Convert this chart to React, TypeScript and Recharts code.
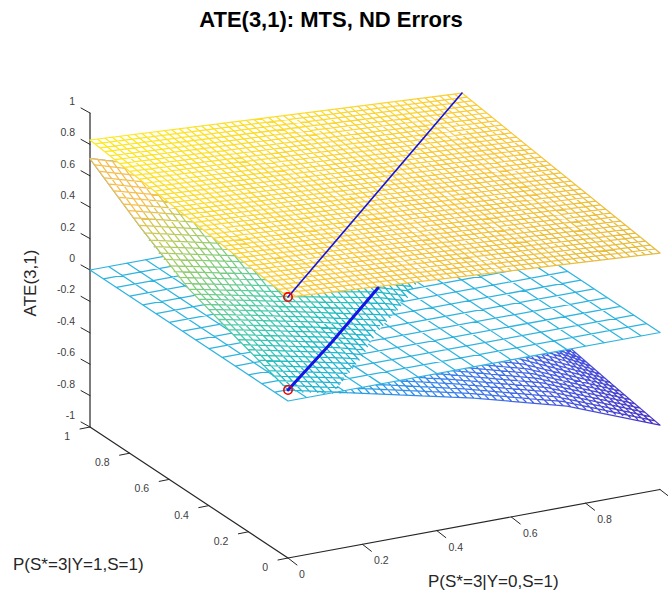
import React from 'react';
import { Area, ComposedChart, Line, ReferenceDot, XAxis, YAxis } from 'recharts';

type P3 = [number, number, number];

// mesh positions on the two probability axes
const fineX = [0, 0.02, 0.04, 0.06, 0.08, 0.1, 0.12, 0.14, 0.16, 0.18, 0.2, 0.22, 0.24, 0.26, 0.28, 0.3, 0.32, 0.34, 0.36, 0.38, 0.4, 0.42, 0.44, 0.46, 0.48, 0.5, 0.52, 0.54, 0.56, 0.58, 0.6, 0.62, 0.64, 0.66, 0.68, 0.7, 0.72, 0.74, 0.76, 0.78, 0.8, 0.82, 0.84, 0.86, 0.88, 0.9, 0.92, 0.94, 0.96, 0.98, 1];
const fineY = [0, 0.025, 0.05, 0.075, 0.1, 0.125, 0.15, 0.175, 0.2, 0.225, 0.25, 0.275, 0.3, 0.325, 0.35, 0.375, 0.4, 0.425, 0.45, 0.475, 0.5, 0.525, 0.55, 0.575, 0.6, 0.625, 0.65, 0.675, 0.7, 0.725, 0.75, 0.775, 0.8, 0.825, 0.85, 0.875, 0.9, 0.925, 0.95, 0.975, 1];
const coarseX = [0, 0.05, 0.1, 0.15, 0.2, 0.25, 0.3, 0.35, 0.4, 0.45, 0.5, 0.55, 0.6, 0.65, 0.7, 0.75, 0.8, 0.85, 0.9, 0.95, 1];
const coarseY = [0, 0.067, 0.133, 0.2, 0.267, 0.333, 0.4, 0.467, 0.533, 0.6, 0.667, 0.733, 0.8, 0.867, 0.933, 1];
const sheetKnots = [0, 0.25, 0.5, 0.75, 1];

// upper plane, heights along its four edges
const upperAtX0 = [0.662, 0.666, 0.67, 0.674, 0.679, 0.683, 0.687, 0.691, 0.695, 0.699, 0.704, 0.708, 0.712, 0.716, 0.72, 0.724, 0.728, 0.733, 0.737, 0.741, 0.745, 0.749, 0.753, 0.757, 0.762, 0.766, 0.77, 0.774, 0.778, 0.782, 0.787, 0.791, 0.795, 0.799, 0.803, 0.807, 0.811, 0.816, 0.82, 0.824, 0.828];
const upperAtX1 = [0.506, 0.511, 0.515, 0.52, 0.525, 0.529, 0.534, 0.538, 0.543, 0.548, 0.552, 0.557, 0.562, 0.566, 0.571, 0.575, 0.58, 0.585, 0.589, 0.594, 0.599, 0.603, 0.608, 0.612, 0.617, 0.622, 0.626, 0.631, 0.636, 0.64, 0.645, 0.649, 0.654, 0.659, 0.663, 0.668, 0.672, 0.677, 0.682, 0.686, 0.691];
const upperAtY0 = [0.662, 0.659, 0.656, 0.653, 0.65, 0.646, 0.643, 0.64, 0.637, 0.634, 0.631, 0.628, 0.625, 0.621, 0.618, 0.615, 0.612, 0.609, 0.606, 0.603, 0.6, 0.596, 0.593, 0.59, 0.587, 0.584, 0.581, 0.578, 0.575, 0.572, 0.568, 0.565, 0.562, 0.559, 0.556, 0.553, 0.55, 0.547, 0.543, 0.54, 0.537, 0.534, 0.531, 0.528, 0.525, 0.522, 0.518, 0.515, 0.512, 0.509, 0.506];
const upperAtY1 = [0.828, 0.825, 0.823, 0.82, 0.817, 0.814, 0.812, 0.809, 0.806, 0.803, 0.801, 0.798, 0.795, 0.792, 0.79, 0.787, 0.784, 0.781, 0.779, 0.776, 0.773, 0.77, 0.768, 0.765, 0.762, 0.759, 0.757, 0.754, 0.751, 0.749, 0.746, 0.743, 0.74, 0.738, 0.735, 0.732, 0.729, 0.727, 0.724, 0.721, 0.718, 0.716, 0.713, 0.71, 0.707, 0.705, 0.702, 0.699, 0.696, 0.694, 0.691];

// curved sheet: heights for each fineY line at x = 0, .25, .5, .75, 1
const sheetAtX0 = [0.07, 0.078, 0.088, 0.097, 0.11, 0.122, 0.135, 0.147, 0.16, 0.171, 0.182, 0.194, 0.205, 0.216, 0.228, 0.239, 0.25, 0.261, 0.273, 0.284, 0.295, 0.311, 0.328, 0.344, 0.36, 0.38, 0.4, 0.42, 0.44, 0.466, 0.493, 0.519, 0.545, 0.566, 0.588, 0.609, 0.63, 0.65, 0.67, 0.69, 0.71];
const sheetAtX25 = [-0.065, -0.054, -0.043, -0.031, -0.02, -0.008, 0.005, 0.018, 0.03, 0.043, 0.055, 0.068, 0.08, 0.091, 0.103, 0.114, 0.125, 0.136, 0.148, 0.159, 0.17, 0.186, 0.203, 0.219, 0.235, 0.253, 0.27, 0.288, 0.305, 0.326, 0.348, 0.369, 0.39, 0.408, 0.425, 0.443, 0.46, 0.478, 0.495, 0.513, 0.53];
const sheetAtX50 = [-0.2, -0.191, -0.183, -0.174, -0.165, -0.155, -0.145, -0.135, -0.125, -0.111, -0.098, -0.084, -0.07, -0.054, -0.038, -0.021, -0.005, 0.011, 0.028, 0.044, 0.06, 0.073, 0.085, 0.098, 0.11, 0.124, 0.138, 0.151, 0.165, 0.179, 0.193, 0.206, 0.22, 0.236, 0.253, 0.269, 0.285, 0.301, 0.318, 0.334, 0.35];
const sheetAtX75 = [-0.36, -0.351, -0.343, -0.334, -0.325, -0.316, -0.308, -0.299, -0.29, -0.278, -0.265, -0.253, -0.24, -0.225, -0.21, -0.195, -0.18, -0.165, -0.15, -0.135, -0.12, -0.105, -0.09, -0.075, -0.06, -0.04, -0.02, 0, 0.02, 0.038, 0.055, 0.073, 0.09, 0.106, 0.123, 0.139, 0.155, 0.171, 0.188, 0.204, 0.22];
const sheetAtX100 = [-0.59, -0.584, -0.578, -0.571, -0.565, -0.559, -0.553, -0.546, -0.54, -0.534, -0.528, -0.521, -0.515, -0.51, -0.505, -0.5, -0.495, -0.487, -0.48, -0.472, -0.465, -0.454, -0.443, -0.431, -0.42, -0.4, -0.38, -0.36, -0.34, -0.31, -0.28, -0.25, -0.22, -0.185, -0.15, -0.115, -0.08, -0.045, -0.01, 0.025, 0.06];

// curved sheet: heights for each fineX line at y = 0, .25, .5, .75, 1
const sheetAtY0 = [0.07, 0.055, 0.04, 0.03, 0.02, 0.01, 0, -0.01, -0.02, -0.03, -0.04, -0.05, -0.06, -0.07, -0.08, -0.09, -0.101, -0.112, -0.123, -0.134, -0.145, -0.156, -0.167, -0.178, -0.189, -0.2, -0.212, -0.224, -0.236, -0.248, -0.26, -0.273, -0.286, -0.299, -0.312, -0.325, -0.339, -0.353, -0.368, -0.384, -0.4, -0.417, -0.434, -0.451, -0.468, -0.485, -0.506, -0.527, -0.548, -0.569, -0.59];
const sheetAtY25 = [0.18, 0.17, 0.16, 0.15, 0.14, 0.13, 0.12, 0.11, 0.1, 0.09, 0.08, 0.07, 0.06, 0.05, 0.04, 0.03, 0.018, 0.006, -0.006, -0.018, -0.03, -0.043, -0.056, -0.069, -0.082, -0.095, -0.108, -0.121, -0.134, -0.147, -0.16, -0.174, -0.188, -0.202, -0.216, -0.23, -0.245, -0.26, -0.275, -0.29, -0.305, -0.323, -0.341, -0.359, -0.377, -0.395, -0.422, -0.449, -0.476, -0.503, -0.53];
const sheetAtY50 = [0.295, 0.285, 0.275, 0.265, 0.255, 0.245, 0.235, 0.225, 0.215, 0.205, 0.195, 0.186, 0.177, 0.168, 0.159, 0.15, 0.141, 0.132, 0.123, 0.114, 0.105, 0.096, 0.087, 0.078, 0.069, 0.06, 0.047, 0.034, 0.021, 0.008, -0.005, -0.02, -0.035, -0.05, -0.065, -0.08, -0.097, -0.114, -0.131, -0.148, -0.165, -0.19, -0.215, -0.24, -0.265, -0.29, -0.325, -0.36, -0.395, -0.43, -0.465];
const sheetAtY75 = [0.49, 0.478, 0.466, 0.454, 0.442, 0.43, 0.419, 0.408, 0.397, 0.386, 0.375, 0.363, 0.351, 0.339, 0.327, 0.315, 0.302, 0.289, 0.276, 0.263, 0.25, 0.238, 0.226, 0.214, 0.202, 0.19, 0.179, 0.168, 0.157, 0.146, 0.135, 0.125, 0.115, 0.105, 0.095, 0.085, 0.072, 0.059, 0.046, 0.033, 0.02, -0.006, -0.032, -0.058, -0.084, -0.11, -0.144, -0.178, -0.212, -0.246, -0.28];
const sheetAtY100 = [0.71, 0.696, 0.682, 0.668, 0.654, 0.64, 0.625, 0.61, 0.595, 0.58, 0.565, 0.55, 0.535, 0.52, 0.505, 0.49, 0.476, 0.462, 0.448, 0.434, 0.42, 0.406, 0.392, 0.378, 0.364, 0.35, 0.339, 0.328, 0.317, 0.306, 0.295, 0.285, 0.275, 0.265, 0.255, 0.245, 0.234, 0.223, 0.212, 0.201, 0.19, 0.178, 0.166, 0.154, 0.142, 0.13, 0.116, 0.102, 0.088, 0.074, 0.06];

// where the sheet passes through the z = 0 plane
const zeroContour: [number, number][] = [[0.12, 0], [0.3, 0.2], [0.49, 0.4], [0.58, 0.5], [0.66, 0.6], [0.76, 0.7], [0.82, 0.8], [0.915, 0.9], [1, 0.96]];

// diagonal curves with the red markers
const upperDiagonal: P3[] = [[0, 0, 0.662], [1, 1, 0.691]];
const lowerDiagonal: P3[] = [[0, 0, 0.07], [0.25, 0.25, 0.055], [0.517, 0.517, 0.063]];

const zTicks = [1, 0.8, 0.6, 0.4, 0.2, 0, -0.2, -0.4, -0.6, -0.8, -1];
const xTicks = [0, 0.2, 0.4, 0.6, 0.8, 1];
const yTicks = [0, 0.2, 0.4, 0.6, 0.8, 1];

// orthographic view of the unit box, in page pixels
const project = ([x, y, z]: P3) => ({
  x: 288 + 372 * x - 198 * y,
  y: 558 - 68.5 * x - 131 * y - 157 * (z + 1),
});

const FONT = '"Liberation Sans", Arial, sans-serif';
const TICK_COLOR = '#404040';

const toSeries = (lines: P3[][]) => {
  const out: { x: number; y: number | null }[] = [];
  lines.forEach(line => {
    line.forEach(p => out.push(project(p)));
    out.push({ x: project(line[line.length - 1]).x, y: null });
  });
  return out;
};

const offsetLine = (p: P3, dx: number, dy: number) => {
  const a = project(p);
  return [a, { x: a.x + dx, y: a.y + dy }, { x: a.x + dx, y: null }];
};

// keep only the runs of a polyline that lie above z = 0
const aboveZero = (line: P3[]) => {
  const runs: P3[][] = [];
  let run: P3[] = [];
  line.forEach((p, i) => {
    const prev = line[i - 1];
    if (prev && prev[2] > 0 !== p[2] > 0) {
      const t = prev[2] / (prev[2] - p[2]);
      const cross: P3 = [prev[0] + (p[0] - prev[0]) * t, prev[1] + (p[1] - prev[1]) * t, 0];
      run.push(cross);
      if (p[2] <= 0) {
        runs.push(run);
        run = [];
      } else {
        run = [cross];
      }
    }
    if (p[2] > 0) run.push(p);
  });
  if (run.length > 1) runs.push(run);
  return runs;
};

// white backing for a polygon, as a range area on the x axis
const toBand = (poly: P3[]) => {
  const pts = poly.map(project);
  const xs = Array.from(new Set(pts.map(p => p.x))).sort((a, b) => a - b);
  return xs.map(x => {
    const hits: number[] = [];
    pts.forEach((a, i) => {
      const b = pts[(i + 1) % pts.length];
      if ((a.x <= x && b.x >= x) || (b.x <= x && a.x >= x)) {
        hits.push(a.x === b.x ? a.y : a.y + ((b.y - a.y) * (x - a.x)) / (b.x - a.x));
      }
    });
    return { x, band: [Math.min(...hits), Math.max(...hits)] };
  });
};

const sheetByX = [sheetAtX0, sheetAtX25, sheetAtX50, sheetAtX75, sheetAtX100];
const sheetByY = [sheetAtY0, sheetAtY25, sheetAtY50, sheetAtY75, sheetAtY100];
const sheetLines: P3[][] = [
  ...fineY.map((y, k) => sheetKnots.map((x, j): P3 => [x, y, sheetByX[j][k]])),
  ...fineX.map((x, i) => sheetKnots.map((y, j): P3 => [x, y, sheetByY[j][i]])),
];
const sheetAll = toSeries(sheetLines);
const sheetTop = toSeries(sheetLines.flatMap(aboveZero));
const sheetBand = toBand([
  ...sheetKnots.map((x, j): P3 => [x, 1, sheetByX[j][40]]),
  ...[...zeroContour].reverse().map(([x, y]): P3 => [x, y, 0]),
  [0, 0, sheetAtX0[0]],
  ...sheetKnots.slice(1, 4).map((y): P3 => [0, y, sheetAtX0[fineY.indexOf(y)]]),
]);

const cyanLines: P3[][] = [
  ...coarseY.map((y): P3[] => [[0, y, 0], [1, y, 0]]),
  ...coarseX.map((x): P3[] => [[x, 0, 0], [x, 1, 0]]),
];
const cyanSeries = toSeries(cyanLines);
const cyanBand = toBand([[0, 0, 0], [1, 0, 0], [1, 1, 0], [0, 1, 0]]);

const upperLines: P3[][] = [
  ...fineY.map((y, k): P3[] => [[0, y, upperAtX0[k]], [1, y, upperAtX1[k]]]),
  ...fineX.map((x, i): P3[] => [[x, 0, upperAtY0[i]], [x, 1, upperAtY1[i]]]),
];
const upperSeries = toSeries(upperLines);
const upperBand = toBand([[0, 0, 0.662], [1, 0, 0.506], [1, 1, 0.691], [0, 1, 0.828]]);

const axisSeries = toSeries([
  [[0, 1, -1], [0, 1, 1]],
  [[0, 0, -1], [0, 1, -1]],
  [[0, 0, -1], [1, 0, -1]],
]);
const tickSeries = [
  ...zTicks.flatMap(z => offsetLine([0, 1, z], -9, -5)),
  ...xTicks.flatMap(x => offsetLine([x, 0, -1], 9, 7)),
  ...yTicks.flatMap(y => offsetLine([0, y, -1], -10, 2)),
];

const label = (text: string, x: number, y: number, anchor: string, size: number, color: string, extra: any = {}) => (
  <ReferenceDot
    key={`${text}-${x}-${y}`}
    x={x}
    y={y}
    r={0}
    shape={(p: any) => (
      <text
        x={p.cx}
        y={p.cy}
        textAnchor={anchor}
        dominantBaseline="central"
        fontFamily={FONT}
        fontSize={size}
        fill={color}
        transform={extra.rotate ? `rotate(${extra.rotate} ${p.cx} ${p.cy})` : undefined}
        fontWeight={extra.bold ? 'bold' : 'normal'}
      >
        {text}
      </text>
    )}
  />
);

const lineProps: any = {
  type: 'linear',
  dataKey: 'y',
  dot: false,
  activeDot: false,
  connectNulls: false,
  isAnimationActive: false,
  strokeLinecap: 'round',
};

const bandProps: any = {
  type: 'linear',
  dataKey: 'band',
  stroke: 'none',
  fill: '#ffffff',
  fillOpacity: 1,
  dot: false,
  activeDot: false,
  isAnimationActive: false,
};

export default function App() {
  return (
    <div style={{ position: 'absolute', left: 0, top: 0, width: 668, height: 594, background: '#fff' }}>
      <ComposedChart width={668} height={594} margin={{ top: 0, right: 0, bottom: 0, left: 0 }}>
        <defs>
          <linearGradient id="upperGrad" gradientUnits="userSpaceOnUse" x1={90} y1={140} x2={410} y2={483}>
            <stop offset="0" stopColor="#fdea1f" />
            <stop offset="0.3" stopColor="#fbd82f" />
            <stop offset="0.6" stopColor="#f9c63c" />
            <stop offset="1" stopColor="#e4bb3e" />
          </linearGradient>
          <linearGradient id="sheetTopGrad" gradientUnits="userSpaceOnUse" x1={124} y1={124} x2={365} y2={365}>
            <stop offset="0" stopColor="#f6bc50" />
            <stop offset="0.2" stopColor="#f5c050" />
            <stop offset="0.31" stopColor="#c4ca58" />
            <stop offset="0.43" stopColor="#94cc70" />
            <stop offset="0.65" stopColor="#50cca8" />
            <stop offset="0.85" stopColor="#22bcc2" />
            <stop offset="1" stopColor="#22b0d8" />
          </linearGradient>
          <linearGradient id="sheetLowGrad" gradientUnits="userSpaceOnUse" x1={340} y1={0} x2={660} y2={0}>
            <stop offset="0" stopColor="#28a4e0" />
            <stop offset="0.35" stopColor="#3a80ec" />
            <stop offset="0.7" stopColor="#4858e0" />
            <stop offset="1" stopColor="#4832c0" />
          </linearGradient>
        </defs>
        <XAxis hide type="number" dataKey="x" domain={[0, 668]} allowDataOverflow />
        <YAxis hide type="number" domain={[0, 594]} reversed allowDataOverflow />

        <Line {...lineProps} data={axisSeries} stroke="#262626" strokeWidth={1.2} zIndex={401} />
        <Line {...lineProps} data={tickSeries} stroke="#262626" strokeWidth={1} zIndex={402} />

        <Line {...lineProps} data={sheetAll} stroke="url(#sheetLowGrad)" strokeWidth={1.25} zIndex={403} />
        <Area {...bandProps} data={cyanBand} zIndex={404} />
        <Line {...lineProps} data={cyanSeries} stroke="#2fb4df" strokeWidth={1.25} zIndex={405} />
        <Area {...bandProps} data={sheetBand} zIndex={406} />
        <Line {...lineProps} data={sheetTop} stroke="url(#sheetTopGrad)" strokeWidth={1.25} zIndex={407} />
        <Area {...bandProps} data={upperBand} zIndex={408} />
        <Line {...lineProps} data={upperSeries} stroke="url(#upperGrad)" strokeWidth={1.25} zIndex={409} />

        <Line {...lineProps} data={lowerDiagonal.map(project)} stroke="#1414e6" strokeWidth={3} zIndex={410} />
        <Line {...lineProps} data={upperDiagonal.map(project)} stroke="#1414e6" strokeWidth={1.6} zIndex={411} />
        <Line
          {...lineProps}
          data={[upperDiagonal[0], lowerDiagonal[0]].map(project).flatMap(p => [p, { x: p.x, y: null }])}
          stroke="none"
          dot={{ r: 4.2, stroke: '#f00000', strokeWidth: 1.6, fill: 'none' }}
          zIndex={412}
        />

        {label('ATE(3,1): MTS, ND Errors', 331, 19, 'middle', 22, '#000000', { bold: true })}
        {label('ATE(3,1)', 30, 283, 'middle', 17, '#262626', { rotate: -90 })}
        {label('P(S*=3|Y=1,S=1)', 13, 564, 'start', 17, '#262626')}
        {label('P(S*=3|Y=0,S=1)', 428, 581, 'start', 17, '#262626')}
        {zTicks.map(z => label(String(z), 75, project([0, 1, z]).y - 12, 'end', 10.5, TICK_COLOR))}
        {xTicks.slice(0, 5).map(x => {
          const p = project([x, 0, -1]);
          return label(String(x), p.x + (x === 0 ? 14 : 19), p.y + 16, 'middle', 10.5, TICK_COLOR);
        })}
        {yTicks.map(y => {
          const p = project([0, y, -1]);
          return label(String(y), p.x - 20, p.y + 9, 'end', 10.5, TICK_COLOR);
        })}
      </ComposedChart>
    </div>
  );
}
